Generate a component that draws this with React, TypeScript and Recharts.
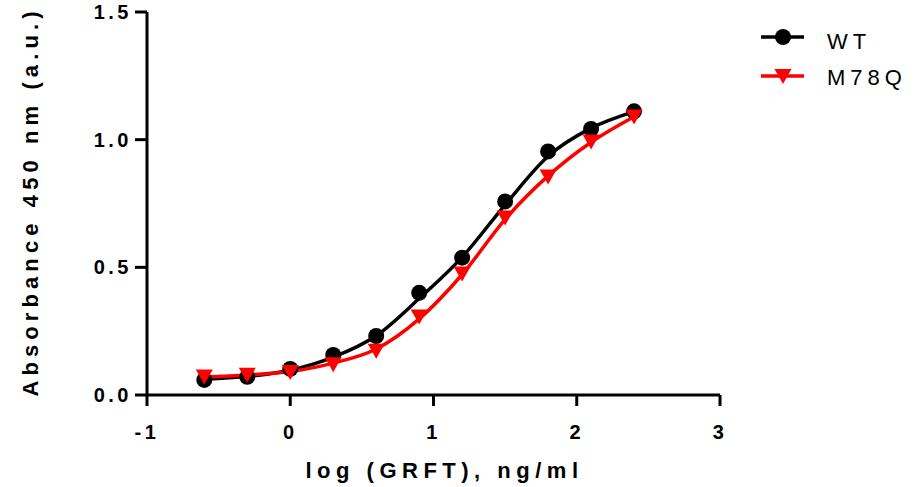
import { ComposedChart, Line, XAxis, YAxis } from "recharts";

const doses = [-0.6, -0.3, 0, 0.3, 0.6, 0.9, 1.2, 1.5, 1.8, 2.1, 2.4];
const wtPoints = [0.059, 0.071, 0.102, 0.157, 0.231, 0.4, 0.538, 0.758, 0.954, 1.042, 1.111];
const m78qPoints = [0.072, 0.079, 0.09, 0.12, 0.173, 0.307, 0.476, 0.695, 0.856, 0.993, 1.091];
const wtFit = [0.062, 0.073, 0.097, 0.148, 0.232, 0.378, 0.54, 0.745, 0.935, 1.045, 1.11];
const m78qFit = [0.07, 0.078, 0.092, 0.125, 0.18, 0.298, 0.472, 0.688, 0.858, 0.99, 1.09];
const xTicks = [-1, 0, 1, 2, 3];
const yTicks = [0, 0.5, 1, 1.5];
const seriesNames = ["WT", "M78Q"];
const seriesColors = ["#000000", "#ff0000"];

const font = "'Liberation Sans', Arial, sans-serif";

const rows = doses.map((x, i) => ({
  x,
  wt: wtPoints[i],
  m78q: m78qPoints[i],
  wtFit: wtFit[i],
  m78qFit: m78qFit[i],
}));

const CircleDot = (p: any) => {
  if (p.cx == null || p.cy == null) return null;
  return <circle key={p.key} cx={p.cx} cy={p.cy} r={8} fill={seriesColors[0]} />;
};

const TriDot = (p: any) => {
  if (p.cx == null || p.cy == null) return null;
  const { cx, cy } = p;
  return (
    <path
      key={p.key}
      d={`M${cx - 8.5},${cy - 7} L${cx + 8.5},${cy - 7} L${cx},${cy + 8} Z`}
      fill={seriesColors[1]}
    />
  );
};

// rotated y title, baseline sits ~37px from the left edge
const YTitle = (props: any) => {
  const vb = props.viewBox || {};
  const cx = vb.x + 37.5;
  const cy = vb.y + vb.height / 2 - 2;
  return (
    <text
      x={cx}
      y={cy}
      transform={`rotate(-90 ${cx} ${cy})`}
      textAnchor="middle"
      fontFamily={font}
      fontWeight={700}
      fontSize={22}
      letterSpacing={5.1}
      fill="#000"
    >
      Absorbance 450 nm (a.u.)
    </text>
  );
};

const XTitle = (props: any) => {
  const vb = props.viewBox || {};
  return (
    <text
      x={vb.x + vb.width / 2 + 11}
      y={vb.y + 83}
      textAnchor="middle"
      fontFamily={font}
      fontWeight={700}
      fontSize={22}
      letterSpacing={5.5}
      fill="#000"
    >
      log (GRFT), ng/ml
    </text>
  );
};

function LegendBox() {
  return (
    <svg
      width={919}
      height={487}
      style={{ position: "absolute", left: 0, top: 0, pointerEvents: "none" }}
    >
      {seriesNames.map((name, i) => {
        const y = 37 + i * 39;
        const c = seriesColors[i];
        return (
          <g key={name}>
            <line x1={761} x2={804} y1={y} y2={y} stroke={c} strokeWidth={3.5} />
            {i === 0 ? (
              <circle cx={783} cy={y} r={8} fill={c} />
            ) : (
              <path d={`M${774.5},${y - 7} L${791.5},${y - 7} L783,${y + 8} Z`} fill={c} />
            )}
            <text
              x={827}
              y={y + 11.5 - i * 2.5}
              fontFamily={font}
              fontSize={22}
              letterSpacing={5}
              fill="#000"
            >
              {name}
            </text>
          </g>
        );
      })}
    </svg>
  );
}

export default function App() {
  const axisStroke = { stroke: "#000", strokeWidth: 3 };
  const tickStyle = { fontSize: 20, fontWeight: 700, fill: "#000", fontFamily: font, letterSpacing: 3.5 };
  return (
    <div style={{ position: "fixed", left: 0, top: 0, width: 919, height: 487, background: "#fff" }}>
      <ComposedChart
        width={919}
        height={487}
        data={rows}
        margin={{ top: 12, right: 199, bottom: 0, left: 0 }}
      >
        <XAxis
          type="number"
          dataKey="x"
          domain={[-1, 3]}
          ticks={xTicks}
          height={92}
          tickSize={11}
          tickMargin={19}
          tick={tickStyle}
          axisLine={axisStroke}
          tickLine={axisStroke}
          label={<XTitle />}
        />
        <YAxis
          type="number"
          domain={[0, 1.5]}
          ticks={yTicks}
          width={147}
          tickSize={12}
          tickMargin={3}
          tickFormatter={(v: number) => v.toFixed(1)}
          tick={tickStyle}
          axisLine={axisStroke}
          tickLine={axisStroke}
          label={<YTitle />}
        />
        <Line
          type="monotone"
          dataKey="wtFit"
          stroke={seriesColors[0]}
          strokeWidth={3.5}
          dot={false}
          activeDot={false}
          isAnimationActive={false}
        />
        <Line
          dataKey="wt"
          stroke="none"
          dot={CircleDot}
          activeDot={false}
          isAnimationActive={false}
        />
        <Line
          type="monotone"
          dataKey="m78qFit"
          stroke={seriesColors[1]}
          strokeWidth={3.5}
          dot={false}
          activeDot={false}
          isAnimationActive={false}
        />
        <Line
          dataKey="m78q"
          stroke="none"
          dot={TriDot}
          activeDot={false}
          isAnimationActive={false}
        />
      </ComposedChart>
      <LegendBox />
    </div>
  );
}
